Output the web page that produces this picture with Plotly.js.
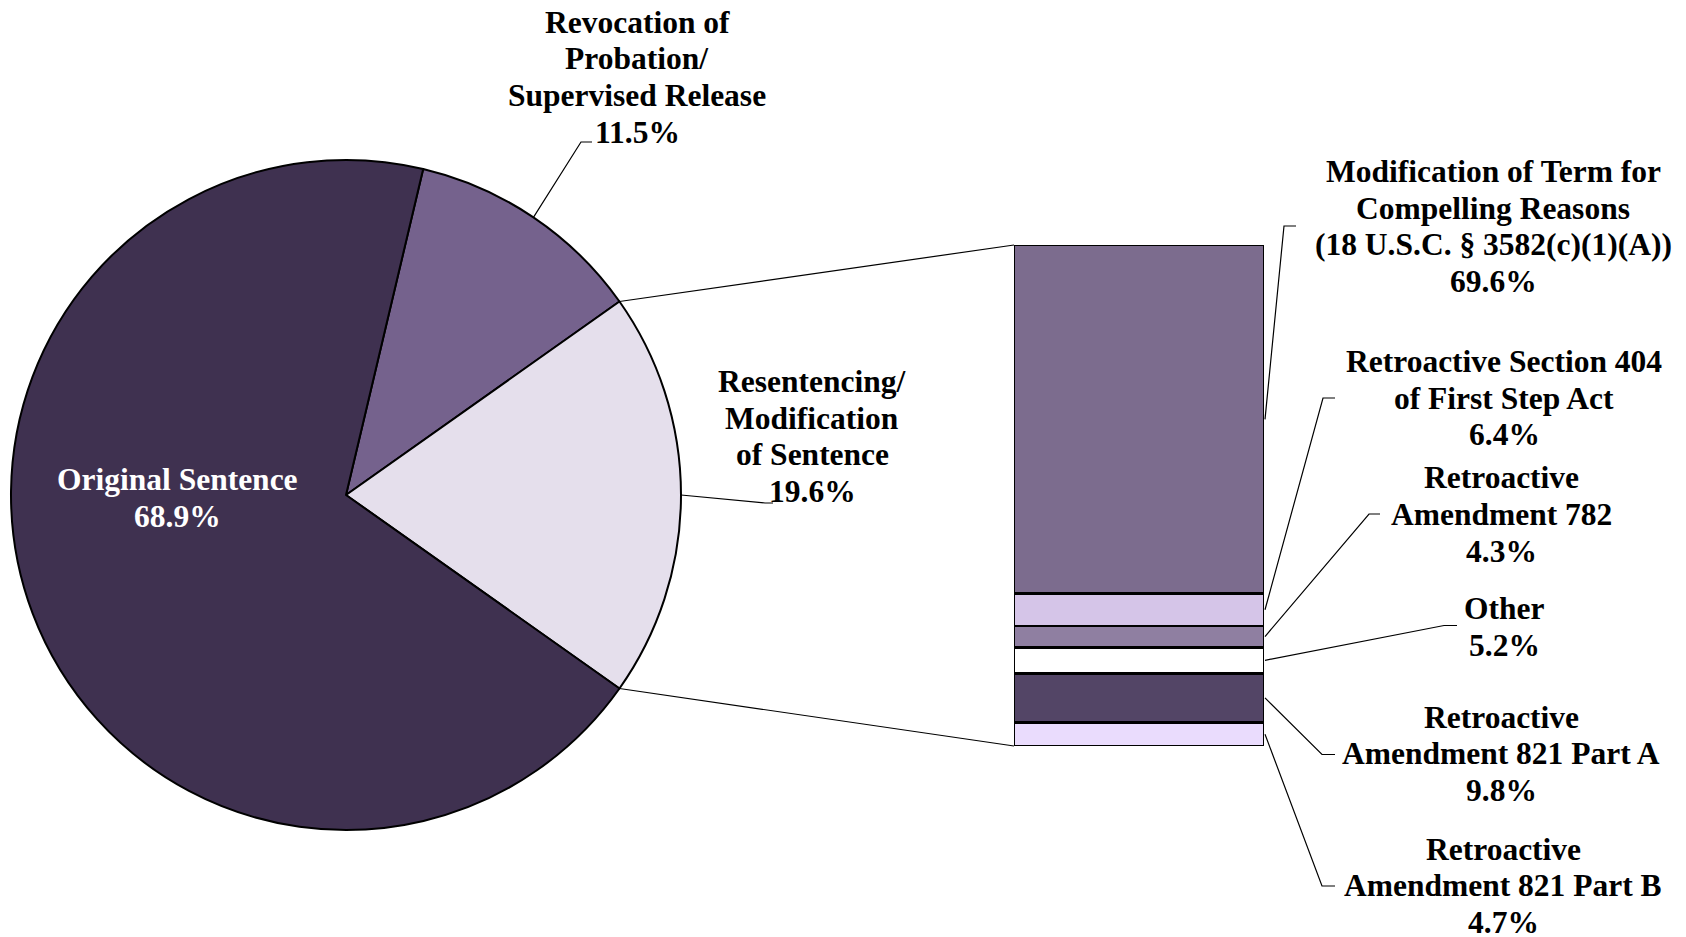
<!DOCTYPE html>
<html>
<head>
<meta charset="utf-8">
<script src="https://cdn.plot.ly/plotly-3.0.1.min.js"></script>
<style>html,body{margin:0;padding:0;background:#fff;}#chart{width:1686px;height:937px;}</style>
</head>
<body>
<div id="chart"></div>
<script>
// ---- data ----
const pieLabels = ['Revocation of\nProbation/\nSupervised Release', 'Resentencing/\nModification\nof Sentence', 'Original Sentence'];
const pieValues = [11.5, 19.6, 68.9];
const pieColors = ['#75628D', '#E5DFEC', '#3F3150'];

// bar of pie, listed top to bottom
const barLabels = [
  'Modification of Term for\nCompelling Reasons\n(18 U.S.C. § 3582(c)(1)(A))',
  'Retroactive Section 404\nof First Step Act',
  'Retroactive\nAmendment 782',
  'Other',
  'Retroactive\nAmendment 821 Part A',
  'Retroactive\nAmendment 821 Part B'
];
const barValues = [69.6, 6.4, 4.3, 5.2, 9.8, 4.7];
const barColors = ['#7C6C8E', '#D5C5E8', '#8F7FA1', '#FFFFFF', '#534566', '#EADCFD'];

// ---- geometry (layout only) ----
const W = 1686, H = 937;
const PIE = {cx: 346, cy: 495, r: 335};
const BAR = {x0: 1014, x1: 1264, y0: 245, y1: 746};
const FONT = 'Liberation Serif, Times New Roman, serif';
const FS = 31.5, GAP = 36.7;
const px = x => x / W, py = y => 1 - y / H;

const pieTotal = pieValues.reduce((a, b) => a + b, 0);
const resIdx = 1;
// Resentencing slice centred at 3 o'clock
const rotation = 90 - pieValues[resIdx] / pieTotal * 180 - pieValues[0] / pieTotal * 360;

function pieEdge(angleDeg) {
  const a = angleDeg * Math.PI / 180;
  return [PIE.cx + PIE.r * Math.sin(a), PIE.cy - PIE.r * Math.cos(a)];
}
// slice start/mid angles
const sliceStart = [], sliceMid = [];
let acc = rotation;
pieValues.forEach(v => { const s = v / pieTotal * 360; sliceStart.push(acc); sliceMid.push(acc + s / 2); acc += s; });

const barTotal = barValues.reduce((a, b) => a + b, 0);
const barY = v => BAR.y1 - v / barTotal * (BAR.y1 - BAR.y0);
// cumulative from bottom
const barMids = [];
{
  let base = 0;
  for (let i = barValues.length - 1; i >= 0; i--) { barMids[i] = base + barValues[i] / 2; base += barValues[i]; }
}

// ---- traces ----
const traces = [{
  type: 'pie', labels: pieLabels.map(s => s.replace(/\n/g, ' ')), values: pieValues,
  marker: {colors: pieColors, line: {color: '#000', width: 2}},
  sort: false, direction: 'clockwise', rotation: rotation,
  textinfo: 'none', hoverinfo: 'none', showlegend: false,
  domain: {x: [px(PIE.cx - PIE.r), px(PIE.cx + PIE.r)], y: [py(PIE.cy + PIE.r), py(PIE.cy - PIE.r)]}
}];
for (let i = barValues.length - 1; i >= 0; i--) {
  traces.push({
    type: 'bar', x: [0], y: [barValues[i]], xaxis: 'x2', yaxis: 'y2',
    name: barLabels[i].replace(/\n/g, ' '),
    marker: {color: barColors[i], line: {color: '#000', width: 2.5}},
    hoverinfo: 'none', showlegend: false
  });
}

// ---- labels ----
const annotations = [];
function addLabel(name, value, cx, y0, color) {
  const lines = name.split('\n').concat([value.toFixed(1) + '%']);
  lines.forEach((t, k) => annotations.push({
    xref: 'paper', yref: 'paper', x: px(cx), y: py(y0 + k * GAP),
    xanchor: 'center', yanchor: 'middle', showarrow: false,
    text: '<b>' + t + '</b>', font: {family: FONT, size: FS, color: color}
  }));
}
const pieLabelPos = [[637, 22, '#000'], [812, 381.5, '#000'], [177, 479.5, '#fff']];
pieLabels.forEach((n, i) => addLabel(n, pieValues[i], pieLabelPos[i][0], pieLabelPos[i][1], pieLabelPos[i][2]));
const barLabelPos = [[1493, 171.5], [1504, 361.5], [1501, 478], [1504, 608.5], [1501, 717], [1503, 849]];
barLabels.forEach((n, i) => addLabel(n, barValues[i], barLabelPos[i][0], barLabelPos[i][1], '#000'));

// ---- leader lines ----
const shapes = [];
function path(pts, w) {
  shapes.push({type: 'path', xref: 'paper', yref: 'paper',
    path: pts.map((p, k) => (k ? 'L' : 'M') + px(p[0]) + ',' + py(p[1])).join(' '),
    line: {color: '#000', width: w}});
}
// pie leaders
const revStart = pieEdge(sliceMid[0]);
path([revStart, [581, 142], [592, 142]], 1.2);
const resStart = pieEdge(sliceMid[1]);
path([resStart, [765, 503], [773, 503]], 1.2);
// connectors pie -> bar
path([pieEdge(sliceStart[1]), [BAR.x0, BAR.y0]], 1.2);
path([pieEdge(sliceStart[2]), [BAR.x0, BAR.y1]], 1.2);
// bar leaders
const barElbows = [[[1284, 226], [1296, 226]], [[1323, 398], [1335, 398]], [[1369, 514], [1380, 514]],
                   [[1444, 625.5], [1457, 625.5]], [[1322, 754.5], [1335, 754.5]], [[1322, 886], [1335, 886]]];
barValues.forEach((v, i) => path([[BAR.x1 + 1, barY(barMids[i])]].concat(barElbows[i]), 1.2));

const layout = {
  width: W, height: H, margin: {l: 0, r: 0, t: 0, b: 0},
  paper_bgcolor: '#fff', plot_bgcolor: 'rgba(0,0,0,0)',
  barmode: 'stack', bargap: 0,
  xaxis2: {domain: [px(BAR.x0), px(BAR.x1)], range: [-0.5, 0.5], visible: false, anchor: 'y2', fixedrange: true},
  yaxis2: {domain: [py(BAR.y1), py(BAR.y0)], range: [0, barTotal], visible: false, anchor: 'x2', fixedrange: true},
  annotations: annotations, shapes: shapes, showlegend: false
};
Plotly.newPlot('chart', traces, layout, {displayModeBar: false, staticPlot: true});
</script>
</body>
</html>
